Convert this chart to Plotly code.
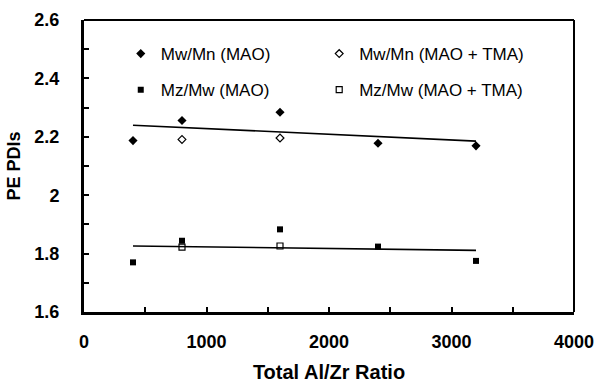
import numpy as np
import plotly.graph_objects as go

# Data
x_mao = [400, 800, 1600, 2400, 3200]
mwmn_mao = [2.187, 2.256, 2.284, 2.178, 2.169]
mzmw_mao = [1.770, 1.844, 1.883, 1.824, 1.775]
x_tma = [800, 1600]
mwmn_tma = [2.191, 2.196]
mzmw_tma = [1.822, 1.826]

FONT = "Liberation Sans, Arial, sans-serif"

fig = go.Figure()

# Trend lines (linear fit of the MAO series)
def fit(xs, ys):
    k, b = np.polyfit(xs, ys, 1)
    xx = [min(xs), max(xs)]
    return xx, [k * v + b for v in xx]

for ys in (mwmn_mao, mzmw_mao):
    xx, yy = fit(x_mao, ys)
    fig.add_trace(go.Scatter(x=xx, y=yy, mode="lines", line=dict(color="black", width=1.6),
                             showlegend=False, hoverinfo="skip"))

fig.add_trace(go.Scatter(x=x_mao, y=mwmn_mao, mode="markers", name="Mw/Mn (MAO)",
                         marker=dict(symbol="diamond", size=7, color="black"),
                         legend="legend", legendgroup="a"))
fig.add_trace(go.Scatter(x=x_mao, y=mzmw_mao, mode="markers", name="Mz/Mw (MAO)",
                         marker=dict(symbol="square", size=6, color="black"),
                         legend="legend", legendgroup="b"))
fig.add_trace(go.Scatter(x=x_tma, y=mwmn_tma, mode="markers", name="Mw/Mn (MAO + TMA)",
                         marker=dict(symbol="diamond-open", size=6, color="black", line=dict(width=1.2)),
                         legend="legend2", legendgroup="c"))
fig.add_trace(go.Scatter(x=x_tma, y=mzmw_tma, mode="markers", name="Mz/Mw (MAO + TMA)",
                         marker=dict(symbol="square-open", size=6, color="black", line=dict(width=1.2)),
                         legend="legend2", legendgroup="d"))

legend_common = dict(font=dict(family=FONT, size=17, color="black"), bgcolor="rgba(0,0,0,0)",
                     orientation="v", tracegroupgap=11, xanchor="left", yanchor="top",
                     traceorder="grouped")

fig.update_layout(
    width=597, height=383,
    margin=dict(l=84, r=23, t=20, b=71),
    paper_bgcolor="white", plot_bgcolor="white",
    font=dict(family=FONT, color="black"),
    legend=dict(x=0.075, y=0.945, **legend_common),
    legend2=dict(x=0.48, y=0.945, **legend_common),
    xaxis=dict(range=[0, 4000], tickvals=[0, 1000, 2000, 3000, 4000], automargin=False,
               ticks="inside", ticklen=5, tickwidth=1.5, tickcolor="black",
               minor=dict(dtick=500, ticks="inside", ticklen=5, tickwidth=1.5, tickcolor="black"),
               showline=True, linewidth=3, linecolor="black", showgrid=False, zeroline=False,
               tickfont=dict(family=FONT, size=18, color="black", weight="bold"),
               ticklabelstandoff=11,
               title=dict(text="<b>Total Al/Zr Ratio</b>", font=dict(family=FONT, size=20, color="black"),
                          standoff=16)),
    yaxis=dict(range=[1.6, 2.6], tickvals=[1.6, 1.8, 2.0, 2.2, 2.4, 2.6], automargin=False,
               ticktext=["1.6", "1.8", "2", "2.2", "2.4", "2.6"],
               ticks="inside", ticklen=5, tickwidth=1.5, tickcolor="black",
               minor=dict(dtick=0.1, ticks="inside", ticklen=5, tickwidth=1.5, tickcolor="black"),
               showline=True, linewidth=3, linecolor="black", showgrid=False, zeroline=False,
               tickfont=dict(family=FONT, size=18, color="black", weight="bold"),
               ticklabelstandoff=18,
               title=dict(text="<b>PE PDIs</b>", font=dict(family=FONT, size=18, color="black"),
                          standoff=10)),
    shapes=[
        dict(type="line", xref="x domain", yref="y domain", x0=0, x1=1, y0=1, y1=1,
             line=dict(color="black", width=2)),
        dict(type="line", xref="x domain", yref="y domain", x0=1, x1=1, y0=0, y1=1,
             line=dict(color="black", width=2)),
    ],
)

fig.write_html("out.html")
